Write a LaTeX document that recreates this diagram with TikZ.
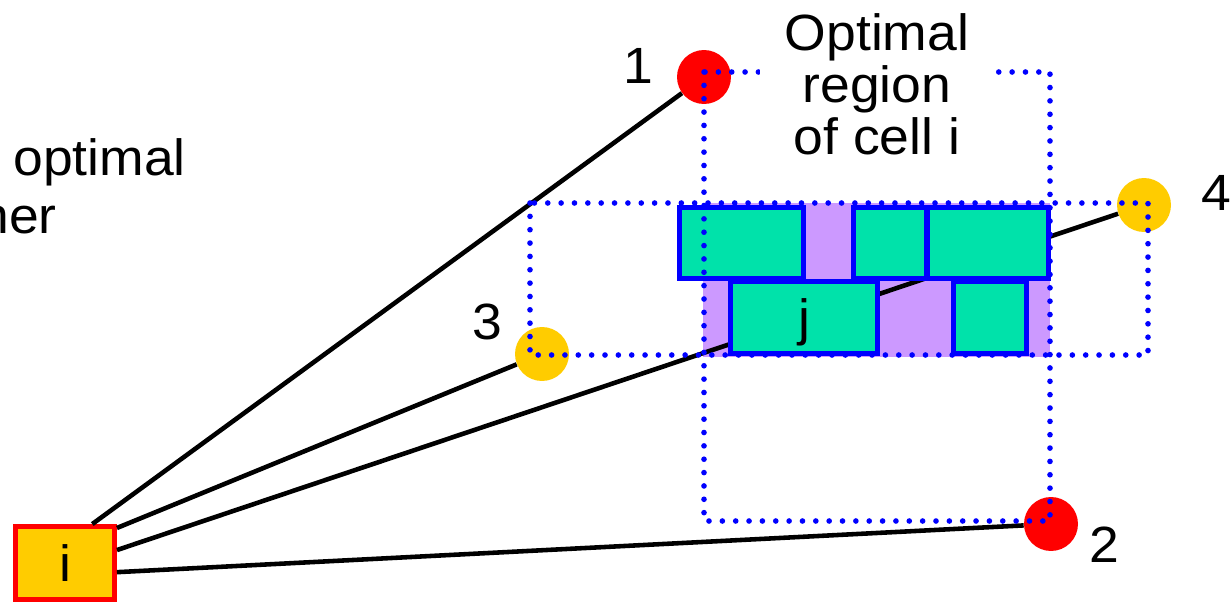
\documentclass[tikz,border=0pt]{standalone}
\usepackage{fontspec}
\setmainfont[FakeStretch=1.05]{Liberation Sans}
\usetikzlibrary{calc}

\definecolor{cellteal}{RGB}{0,226,170}
\definecolor{regpurple}{RGB}{204,153,255}
\definecolor{dotblue}{RGB}{0,0,255}
\definecolor{pinyellow}{RGB}{255,204,0}
\definecolor{pinred}{RGB}{255,0,0}

\begin{document}
\begin{tikzpicture}[
    x=0.02cm, y=-0.02cm,
    txt/.style={font=\fontsize{29}{29.6}\selectfont},
    cellbox/.style={draw=dotblue, fill=cellteal, line width=2.8pt, inner sep=0pt, txt},
    pin/.style={circle, minimum size=1.08cm, inner sep=0pt},
    net/.style={line width=2.6pt},
    bbox/.style={dotblue, line width=3.2pt, line cap=round, dash pattern=on 0pt off 7.6pt}
]
\useasboundingbox (0,0) rectangle (1232,602);
\clip (0,0) rectangle (1232,602);

% overlap of the two regions
\fill[regpurple] (703,203) rectangle (1050,357);

\node[draw=pinred, fill=pinyellow, line width=2.8pt, minimum width=1.98cm, minimum height=1.46cm, txt] (celli) at (65,563) {i};
\node[pin, fill=pinred] (p1) at (704,77) {};
\node[pin, fill=pinred] (p2) at (1051,524) {};
\node[pin, fill=pinyellow] (p3) at (542,354) {};
\node[pin, fill=pinyellow] (p4) at (1144,205) {};

\draw[net] (celli.55) -- (p1);
\draw[net] (celli.34) -- (p3);
\draw[net] (celli.14) -- (p4);
\draw[net] (celli.-10) -- (p2);

% placed cells
\node[cellbox, minimum width=2.48cm, minimum height=1.42cm] (ca) at (741.5,243) {};
\node[cellbox, minimum width=1.47cm, minimum height=1.42cm] (cb) at (890,243) {};
\node[cellbox, minimum width=2.43cm, minimum height=1.42cm] (cc) at (988,243) {};
\node[cellbox, minimum width=2.94cm, minimum height=1.44cm, text depth=0pt] (cj) at (804,317.5) {j};
\node[cellbox, minimum width=1.46cm, minimum height=1.44cm] (ce) at (990,317.5) {};

% bounding boxes of the nets
\draw[bbox] (704,72) rectangle (1050,521);
\draw[bbox] (530,203) rectangle (1148,355);

\node[txt, align=center, fill=white, minimum width=4.7cm, inner sep=0pt] (title) at (877,84) {Optimal\\region\\of cell i};

\node[txt, inner sep=0pt] (lab1) at (638,66) {1};
\node[txt, inner sep=0pt] (lab2) at (1104,545) {2};
\node[txt, inner sep=0pt] (lab3) at (487,322) {3};
\node[txt, inner sep=0pt] (lab4) at (1216,193) {4};

\node[txt, anchor=base west, inner sep=0pt] (lefta) at (13,175) {optimal};
\node[txt, anchor=base east, inner sep=0pt] (leftb) at (57,233) {her};
\end{tikzpicture}
\end{document}
